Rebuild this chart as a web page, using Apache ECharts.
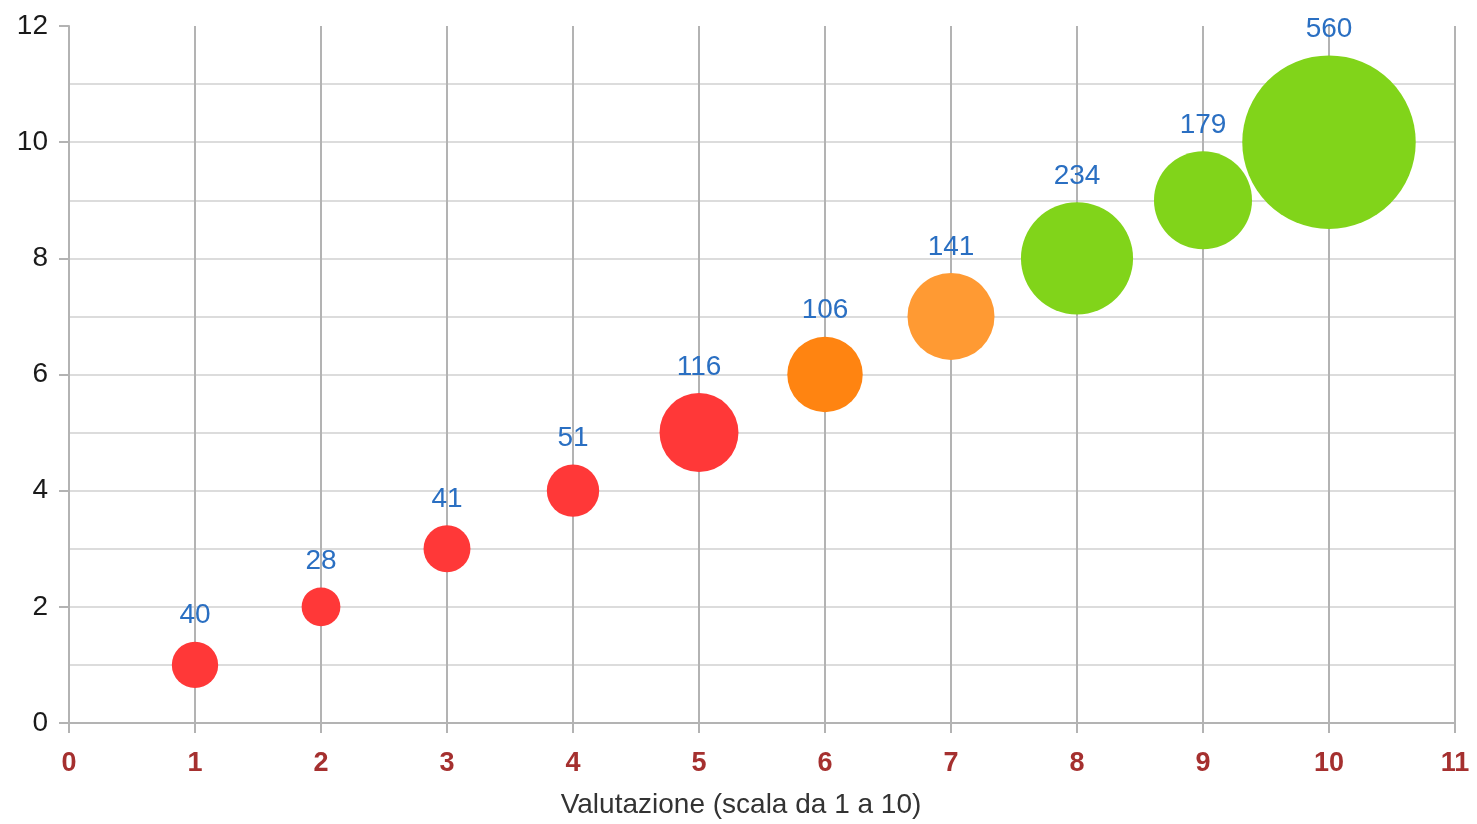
<!DOCTYPE html>
<html>
<head>
<meta charset="utf-8">
<script src="https://cdn.jsdelivr.net/npm/echarts@6/dist/echarts.min.js"></script>
<style>
html, body { margin: 0; padding: 0; background: #fff; }
#chart { width: 1477px; height: 824px; }
</style>
</head>
<body>
<div id="chart"></div>
<script>
// voti (asse x), posizione y, numero di risposte (dimensione bolla)
var ratings = [1, 2, 3, 4, 5, 6, 7, 8, 9, 10];
var yValues = [1, 2, 3, 4, 5, 6, 7, 8, 9, 10];
var counts = [40, 28, 41, 51, 116, 106, 141, 234, 179, 560];
var colors = ['#ff3838', '#ff3838', '#ff3838', '#ff3838', '#ff3838',
              '#ff8411', '#ff9a33', '#81d41a', '#81d41a', '#81d41a'];

var myChart = echarts.init(document.getElementById('chart'));

var data = [];
ratings.forEach(function (r, i) {
    data.push({
        value: [r, yValues[i], counts[i]],
        itemStyle: { color: colors[i], opacity: 1 }
    });
});

var option = {
    animation: false,
    textStyle: { fontFamily: 'Liberation Sans' },
    grid: { left: 69, right: 22, top: 26, bottom: 98 },
    xAxis: {
        type: 'value',
        min: 0,
        max: 11,
        interval: 1,
        name: 'Valutazione (scala da 1 a 10)',
        nameLocation: 'middle',
        nameGap: 68,
        nameTextStyle: { fontSize: 28, color: '#333', padding: [0, 42, 0, 0] },
        axisLine: { show: true, lineStyle: { color: '#b3b3b3', width: 2 } },
        axisTick: { show: true, length: 10, lineStyle: { color: '#b3b3b3', width: 2 } },
        axisLabel: { fontSize: 27, fontWeight: 'bold', color: '#a5302f', margin: 27 },
        splitLine: { show: true, lineStyle: { color: '#b3b3b3', width: 2 } }
    },
    yAxis: {
        type: 'value',
        min: 0,
        max: 12,
        interval: 2,
        axisLine: { show: true, lineStyle: { color: '#b3b3b3', width: 2 } },
        axisTick: { show: true, length: 10, lineStyle: { color: '#b3b3b3', width: 2 } },
        axisLabel: { fontSize: 28, color: '#1a1a1a', margin: 21 },
        splitLine: { show: true, showMaxLine: false, lineStyle: { color: '#dcdcdc', width: 2 } },
        minorTick: { show: false, splitNumber: 2 },
        minorSplitLine: { show: true, lineStyle: { color: '#dcdcdc', width: 2 } }
    },
    series: [{
        type: 'scatter',
        data: data,
        symbolSize: function (val) {
            return 7.33 * Math.sqrt(val[2]);
        },
        itemStyle: { opacity: 1 },
        label: {
            show: true,
            position: 'top',
            distance: 12,
            fontSize: 28,
            color: '#2a6fc2',
            formatter: function (p) { return p.value[2]; }
        }
    }]
};

myChart.setOption(option);
</script>
</body>
</html>
